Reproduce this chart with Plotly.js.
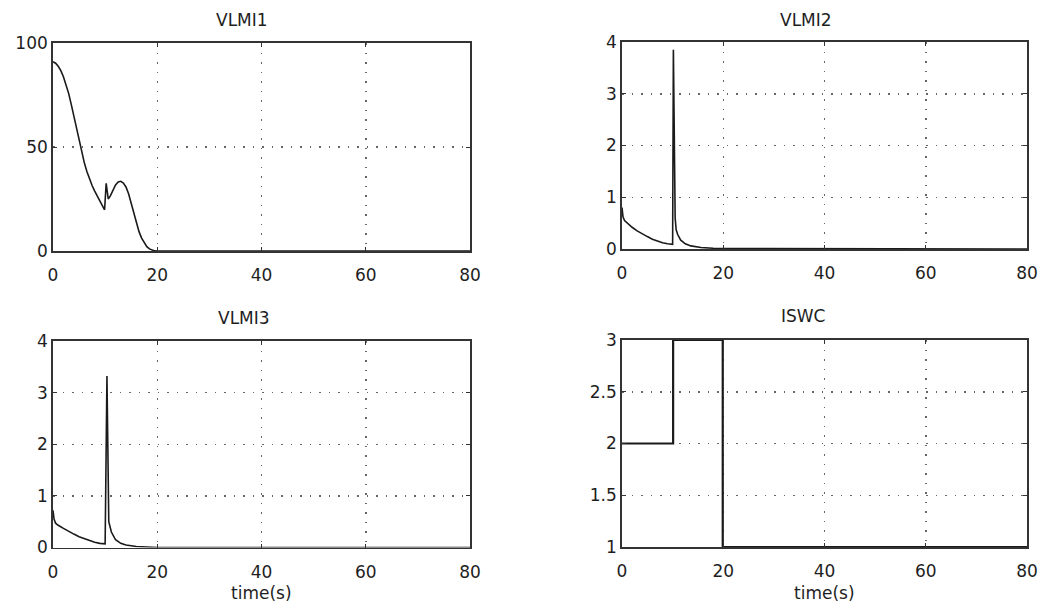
<!DOCTYPE html>
<html>
<head>
<meta charset="utf-8">
<script src="https://cdn.plot.ly/plotly-3.0.1.min.js"></script>
<style>html,body{margin:0;padding:0;background:#fff;}#chart{width:1059px;height:609px;}</style>
</head>
<body>
<div id="chart"></div>
<script>
// ---- data ----
const titles = ["VLMI1", "VLMI2", "VLMI3", "ISWC"];
const xLabel = "time(s)";

const t1 = [0, 0.5, 1, 1.5, 2, 2.5, 3, 3.5, 4, 4.5, 5, 5.5, 6, 6.5, 7, 7.5, 8, 8.5, 9, 9.5, 9.9, 10.2, 10.6, 11, 11.5, 12, 12.5, 13, 13.5, 14, 14.5, 15, 15.5, 16, 16.5, 17, 17.5, 18, 18.5, 19, 19.5, 20, 80];
const vlmi1 = [91, 90.3, 88.8, 86.7, 83.8, 80.2, 75.8, 70.5, 64.8, 58.8, 53, 47.5, 42.5, 38.2, 34.5, 31.5, 28.8, 26.3, 24, 21.8, 19.8, 32.5, 25, 26.5, 29.5, 31.8, 33.2, 33.5, 32.7, 30.8, 27.5, 22.8, 17.8, 13.2, 9.3, 6.2, 3.8, 2.1, 1, 0.35, 0.05, 0, 0];

const t2 = [0, 0.2, 0.5, 1, 2, 3, 4, 5, 6, 7, 8, 9, 10, 10.15, 10.5, 10.7, 11, 11.6, 12.5, 13.6, 15.6, 18, 20, 80];
const vlmi2 = [0.8, 0.62, 0.55, 0.5, 0.42, 0.35, 0.29, 0.24, 0.19, 0.15, 0.12, 0.1, 0.09, 3.85, 0.6, 0.37, 0.28, 0.17, 0.1, 0.06, 0.03, 0.015, 0.01, 0];

const t3 = [0, 0.2, 0.5, 1, 2, 3, 4, 5, 6, 7, 8, 9, 10, 10.35, 10.7, 11.2, 12, 13, 14, 16, 20, 80];
const vlmi3 = [0.72, 0.55, 0.47, 0.43, 0.37, 0.31, 0.26, 0.21, 0.17, 0.13, 0.1, 0.08, 0.07, 3.32, 0.5, 0.3, 0.15, 0.08, 0.05, 0.02, 0, 0];

const t4 = [0, 10.1, 10.1, 19.9, 19.9, 80];
const iswc = [2, 2, 3, 3, 1, 1];

const xTicks = [0, 20, 40, 60, 80];
const yTicks1 = [0, 50, 100];
const yTicks2 = [0, 1, 2, 3, 4];
const yTicks3 = [0, 1, 2, 3, 4];
const yTicks4 = [1, 1.5, 2, 2.5, 3];

// ---- layout ----
const W = 1059, H = 609;
const font = {family: "DejaVu Sans, Arial, sans-serif", size: 17, color: "#1e1e1e"};
const lineStyle = {color: "#1a1a1a", width: 1.6};

function px(x){ return x / W; }
function py(y){ return 1 - y / H; }

const boxes = [
  {l: 53, r: 470, t: 43, b: 251},
  {l: 622, r: 1027, t: 42, b: 249},
  {l: 53, r: 470, t: 341, b: 547.5},
  {l: 622, r: 1027, t: 340, b: 547}
];

const gridStyle = {showgrid: true, gridcolor: "#666", griddash: "1.5px,8px", gridwidth: 1.5};

function xaxis(i){
  const b = boxes[i];
  return Object.assign({
    domain: [px(b.l), px(b.r)], range: [0, 80], tickvals: xTicks,
    showline: true, mirror: "ticks", linecolor: "#333", linewidth: 1.8,
    ticks: "inside", ticklen: 4, tickcolor: "#333", ticklabelstandoff: 8,
    zeroline: false, tickfont: font, anchor: "y" + (i ? i + 1 : ""),
    fixedrange: true
  }, gridStyle);
}
function yaxis(i, range, ticks){
  const b = boxes[i];
  return Object.assign({
    domain: [py(b.b), py(b.t)], range: range, tickvals: ticks,
    showline: true, mirror: "ticks", linecolor: "#333", linewidth: 1.8,
    ticks: "inside", ticklen: 4, tickcolor: "#333",
    zeroline: false, tickfont: font, anchor: "x" + (i ? i + 1 : ""),
    fixedrange: true
  }, gridStyle);
}

const traces = [
  {x: t1, y: vlmi1, xaxis: "x", yaxis: "y", line: lineStyle},
  {x: t2, y: vlmi2, xaxis: "x2", yaxis: "y2", line: lineStyle},
  {x: t3, y: vlmi3, xaxis: "x3", yaxis: "y3", line: lineStyle},
  {x: t4, y: iswc, xaxis: "x4", yaxis: "y4", line: {color: "#1a1a1a", width: 2.2}}
].map(tr => Object.assign(tr, {type: "scatter", mode: "lines", hoverinfo: "skip", cliponaxis: false}));

const titlePos = [[242, 20], [806, 20], [244, 318], [803, 316]];
const annotations = titles.map((txt, i) => ({
  text: txt, xref: "paper", yref: "paper", x: px(titlePos[i][0]), y: py(titlePos[i][1]),
  xanchor: "center", yanchor: "middle", showarrow: false, font: font
}));
annotations.push({text: xLabel, xref: "paper", yref: "paper", x: px(261), y: py(593), xanchor: "center", yanchor: "middle", showarrow: false, font: font});
annotations.push({text: xLabel, xref: "paper", yref: "paper", x: px(824), y: py(593), xanchor: "center", yanchor: "middle", showarrow: false, font: font});

const layout = {
  width: W, height: H, margin: {l: 0, r: 0, t: 0, b: 0},
  paper_bgcolor: "#fff", plot_bgcolor: "#fff", showlegend: false,
  xaxis: xaxis(0), yaxis: yaxis(0, [0, 100], yTicks1),
  xaxis2: xaxis(1), yaxis2: yaxis(1, [0, 4], yTicks2),
  xaxis3: xaxis(2), yaxis3: yaxis(2, [0, 4], yTicks3),
  xaxis4: xaxis(3), yaxis4: yaxis(3, [1, 3], yTicks4),
  annotations: annotations, font: font
};

Plotly.newPlot("chart", traces, layout, {staticPlot: true, displayModeBar: false});
</script>
</body>
</html>
